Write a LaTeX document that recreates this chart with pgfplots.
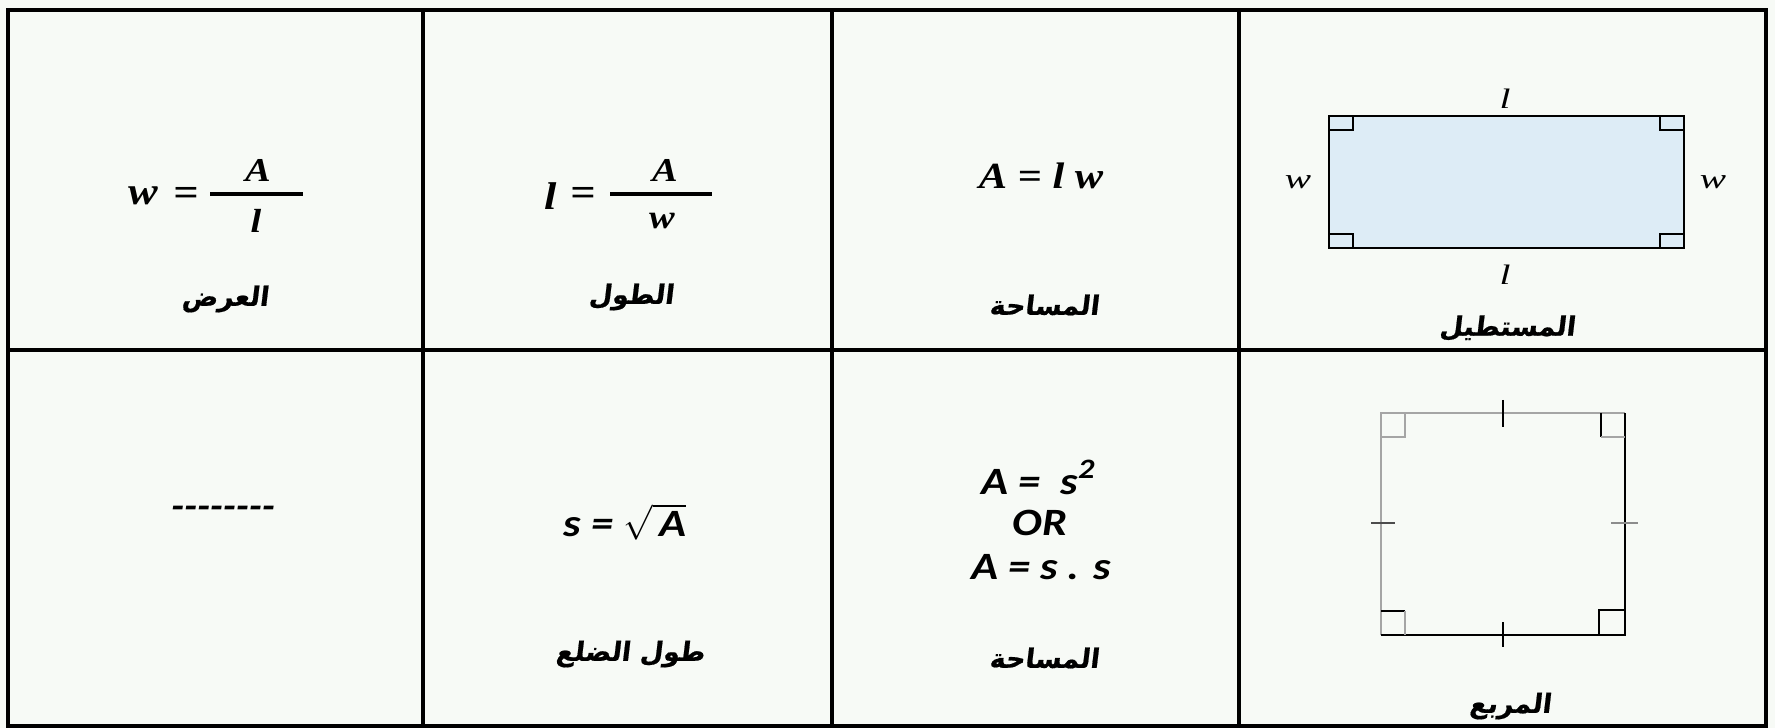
\documentclass[border=0pt]{standalone}
\usepackage{pgfplots}
\pgfplotsset{compat=1.18}
\usepackage{fontspec}
\setmainfont{Liberation Serif}
\newfontfamily\serbi[FakeStretch=1.15]{Liberation Serif}
\newfontfamily\sansbi[FakeStretch=1.15]{Carlito}
\newfontfamily\arfont[Script=Arabic,FakeSlant=0.12,FakeBold=0.6]{DejaVu Sans}
\newfontfamily\lblfont[FakeStretch=1.4]{Liberation Serif}
\TeXXeTstate=1
\definecolor{bg}{RGB}{247,250,246}
\definecolor{rectblue}{RGB}{221,236,246}
\definecolor{lgray}{RGB}{165,165,165}
\newcommand{\ser}[2][10.5]{{\fontsize{#1}{#1}\serbi\bfseries\itshape #2}}
\newcommand{\san}[2][11]{{\fontsize{#1}{#1}\sansbi\bfseries\itshape #2}}
\newcommand{\ar}[1]{{\fontsize{7.6}{9}\arfont\bfseries\beginR #1\endR}}
\newcommand{\lbl}[1]{{\fontsize{8}{8}\lblfont\itshape #1}}
\begin{document}
\begin{tikzpicture}
\begin{axis}[scale only axis, width=17.75cm, height=7.28cm,
  xmin=0, xmax=1775, ymin=0, ymax=728, y dir=reverse,
  hide axis, clip=false, no markers,
  every node/.style={inner sep=0pt, outer sep=0pt}]
% background
\addplot[fill=bg, draw=none] coordinates {(0,0)(1775,0)(1775,728)(0,728)} -- cycle;
% table grid
\addplot[black, line width=1pt] coordinates {(8,10)(1766,10)(1766,726)(8,726)} -- cycle;
\addplot[black, line width=0.9pt] coordinates {(423,10)(423,726)};
\addplot[black, line width=0.9pt] coordinates {(832,10)(832,726)};
\addplot[black, line width=0.9pt] coordinates {(1239,10)(1239,726)};
\addplot[black, line width=0.9pt] coordinates {(8,350)(1766,350)};
% rectangle
\addplot[fill=rectblue, draw=black, line width=0.6pt] coordinates {(1329,116)(1684,116)(1684,248)(1329,248)} -- cycle;
\addplot[black, line width=0.5pt] coordinates {(1329,130)(1353,130)(1353,116)};
\addplot[black, line width=0.5pt] coordinates {(1684,130)(1660,130)(1660,116)};
\addplot[black, line width=0.5pt] coordinates {(1329,234)(1353,234)(1353,248)};
\addplot[black, line width=0.5pt] coordinates {(1684,234)(1660,234)(1660,248)};
\node at (axis cs:1505,99) {\lbl{l}};
\node at (axis cs:1505,275) {\lbl{l}};
\node at (axis cs:1298,182) {\lbl{w}};
\node at (axis cs:1713,182) {\lbl{w}};
\node at (axis cs:1507,328) {\ar{المستطيل}};
% square
\addplot[lgray, line width=0.4pt] coordinates {(1381,635)(1381,413)(1625,413)};
\addplot[black, line width=0.7pt] coordinates {(1381,635)(1625,635)(1625,413)};
\addplot[lgray, line width=0.4pt] coordinates {(1381,437)(1405,437)(1405,413)};
\addplot[black, line width=0.6pt] coordinates {(1601,413)(1601,437)};
\addplot[lgray, line width=0.4pt] coordinates {(1601,437)(1625,437)};
\addplot[black, line width=0.6pt] coordinates {(1381,611)(1405,611)};
\addplot[lgray, line width=0.4pt] coordinates {(1405,611)(1405,635)};
\addplot[black, line width=0.6pt] coordinates {(1599,635)(1599,610)(1625,610)};
\addplot[black, line width=0.6pt] coordinates {(1503,400)(1503,427)};
\addplot[black, line width=0.6pt] coordinates {(1503,622)(1503,647)};
\addplot[black!70, line width=0.6pt] coordinates {(1371,523)(1395,523)};
\addplot[black!45, line width=0.5pt] coordinates {(1611,523)(1638,523)};
\node at (axis cs:1510,706) {\ar{المربع}};
% column 1
\node at (axis cs:143,196) {\ser[11]{w}};
\node at (axis cs:186,196) {\ser[11]{=}};
\addplot[black, line width=0.9pt] coordinates {(210,194)(303,194)};
\node at (axis cs:258,170) {\ser[9.5]{A}};
\node at (axis cs:256,221) {\ser[9.5]{l}};
\node at (axis cs:225,299) {\ar{العرض}};
\node at (axis cs:223,512) {\san[10.5]{-{}-{}-{}-{}-{}-{}-{}-}};
% column 2
\node at (axis cs:551,196) {\ser[11]{l}};
\node at (axis cs:583,196) {\ser[11]{=}};
\addplot[black, line width=0.9pt] coordinates {(610,194)(712,194)};
\node at (axis cs:665,170) {\ser[9.5]{A}};
\node at (axis cs:662,221) {\ser[9.5]{w}};
\node at (axis cs:631,297) {\ar{الطول}};
\node at (axis cs:625,522) {\san{s = }$\sqrt{\hbox{\san{\,A}}}$};
\node at (axis cs:630,654) {\ar{طول الضلع}};
% column 3
\node at (axis cs:1041,176) {\ser{A = l w}};
\node at (axis cs:1044,305) {\ar{المساحة}};
\node at (axis cs:1038,477) {\san{A =\ \ s\raisebox{0.85ex}{\fontsize{8}{8}\selectfont 2}}};
\node at (axis cs:1040,523) {\san{OR}};
\node at (axis cs:1041,567) {\san{A = s . s}};
\node at (axis cs:1044,658) {\ar{المساحة}};
\end{axis}
\pgfresetboundingbox
\path[use as bounding box] (current axis.south west) rectangle (current axis.north east);
\end{tikzpicture}
\end{document}
